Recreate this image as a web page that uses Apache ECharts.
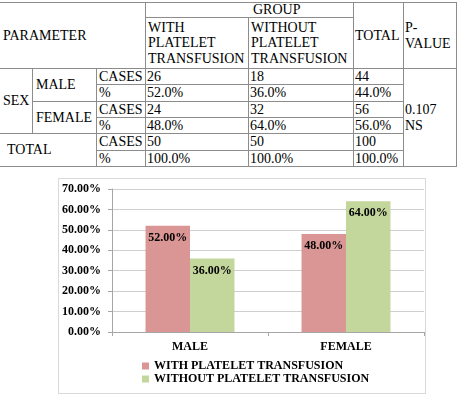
<!DOCTYPE html>
<html>
<head>
<meta charset="utf-8">
<script src="https://cdn.jsdelivr.net/npm/echarts@6/dist/echarts.min.js"></script>
<style>
  html, body { margin: 0; padding: 0; background: #fff; }
  body { width: 460px; height: 402px; position: relative; overflow: hidden; }
  #table { position: absolute; left: 0; top: 0; width: 460px; height: 170px;
           font-family: "Liberation Serif", "Times New Roman", serif; font-size: 14px; color: #000; }
  .cell { position: absolute; box-sizing: border-box; border-right: 1px solid #8c8c8c;
          border-bottom: 1px solid #8c8c8c; line-height: 15.5px; white-space: nowrap;
          display: flex; flex-direction: column; justify-content: center; }
  .topline { position: absolute; height: 1px; background: #8c8c8c; }
  #chart { position: absolute; left: 58px; top: 178px; width: 368px; height: 216px;
           box-sizing: border-box; border: 1px solid #d9d9d9; }
</style>
</head>
<body>
<div id="table"></div>
<div id="chart"></div>
<script>
// ---- table data ----
var tableHeaderGroup = 'GROUP';
var groupNames = [['WITH', 'PLATELET', 'TRANSFUSION'], ['WITHOUT', 'PLATELET', 'TRANSFUSION']];
var maleCases = ['26', '18', '44'];
var malePercent = ['52.0%', '36.0%', '44.0%'];
var femaleCases = ['24', '32', '56'];
var femalePercent = ['48.0%', '64.0%', '56.0%'];
var totalCases = ['50', '50', '100'];
var totalPercent = ['100.0%', '100.0%', '100.0%'];
var pValueText = ['0.107', 'NS'];

// ---- chart data ----
var categories = ['MALE', 'FEMALE'];
var withPlatelet = [52, 48];
var withoutPlatelet = [36, 64];
var seriesNames = ['WITH PLATELET TRANSFUSION', 'WITHOUT PLATELET TRANSFUSION'];

// ---- table layout ----
var X = [-1, 32, 96, 145, 248, 353, 403, 456];
var Y = [2, 17, 68, 84, 101, 117, 133, 150, 166];
var tbl = document.getElementById('table');
var tl = document.createElement('div');
tl.className = 'topline';
tl.style.left = '0px'; tl.style.top = Y[0] + 'px'; tl.style.width = (X[7] + 1) + 'px';
tbl.appendChild(tl);
function cell(c0, c1, r0, r1, lines, pad) {
  var d = document.createElement('div');
  d.className = 'cell';
  d.style.left = (X[c0] + 1) + 'px';
  d.style.width = (X[c1] - X[c0]) + 'px';
  d.style.top = (Y[r0] + 1) + 'px';
  d.style.height = (Y[r1] - Y[r0]) + 'px';
  d.style.paddingLeft = pad + 'px';
  lines.forEach(function (t) {
    var s = document.createElement('div');
    s.textContent = t;
    d.appendChild(s);
  });
  tbl.appendChild(d);
}
cell(0, 3, 0, 2, ['PARAMETER'], 3);
cell(3, 5, 0, 1, [tableHeaderGroup], 107);
cell(3, 4, 1, 2, groupNames[0], 2);
cell(4, 5, 1, 2, groupNames[1], 2);
cell(5, 6, 0, 2, ['TOTAL'], 1);
cell(6, 7, 0, 2, ['P-', 'VALUE'], 1);
cell(0, 1, 2, 6, ['SEX'], 3);
cell(1, 2, 2, 4, ['MALE'], 3);
cell(1, 2, 4, 6, ['FEMALE'], 3);
cell(0, 2, 6, 8, ['TOTAL'], 7);
cell(6, 7, 2, 8, pValueText, 1);
var rowsDef = [
  ['CASES', maleCases], ['%', malePercent],
  ['CASES', femaleCases], ['%', femalePercent],
  ['CASES', totalCases], ['%', totalPercent]
];
rowsDef.forEach(function (r, i) {
  cell(2, 3, 2 + i, 3 + i, [r[0]], 2);
  r[1].forEach(function (v, j) {
    cell(3 + j, 4 + j, 2 + i, 3 + i, [v], 1);
  });
});

// ---- chart ----
var font = '"Liberation Serif", "Times New Roman", serif';
var chart = echarts.init(document.getElementById('chart'));
var labelCfg = {
  show: true, position: 'insideTop', distance: 6, color: '#000',
  fontFamily: font, fontWeight: 'bold', fontSize: 12,
  formatter: function (p) { return p.value.toFixed(2) + '%'; }
};
function legendFor(name, top) {
  return {
    orient: 'vertical', left: 83, top: top, icon: 'rect',
    itemWidth: 7, itemHeight: 7, itemGap: 1, padding: 0,
    textStyle: { fontFamily: font, fontWeight: 'bold', fontSize: 12, color: '#000' },
    data: [name]
  };
}
chart.setOption({
  animation: false,
  backgroundColor: '#fff',
  grid: { left: 52, top: 10, width: 313, height: 143 },
  legend: [legendFor(seriesNames[0], 181), legendFor(seriesNames[1], 194)],
  xAxis: {
    type: 'category', data: categories,
    axisLine: { show: true, lineStyle: { color: '#a6a6a6' } },
    axisTick: { show: true, length: 4, lineStyle: { color: '#a6a6a6' } },
    axisLabel: { margin: 9, color: '#000', fontFamily: font, fontWeight: 'bold', fontSize: 12 }
  },
  yAxis: {
    type: 'value', min: 0, max: 70, interval: 10,
    axisLine: { show: true, lineStyle: { color: '#a6a6a6' } },
    axisTick: { show: true, length: 4, lineStyle: { color: '#a6a6a6' } },
    splitLine: { show: true, lineStyle: { color: '#cfcfcf' } },
    axisLabel: {
      margin: 11, color: '#000', fontFamily: font, fontWeight: 'bold', fontSize: 12,
      formatter: function (v) { return v.toFixed(2) + '%'; }
    }
  },
  series: [
    { name: seriesNames[0], type: 'bar', data: withPlatelet, barGap: '0%', barCategoryGap: '43%',
      itemStyle: { color: '#d99694' }, label: labelCfg },
    { name: seriesNames[1], type: 'bar', data: withoutPlatelet, barGap: '0%', barCategoryGap: '43%',
      itemStyle: { color: '#c3d69b' }, label: labelCfg }
  ]
});
</script>
</body>
</html>
